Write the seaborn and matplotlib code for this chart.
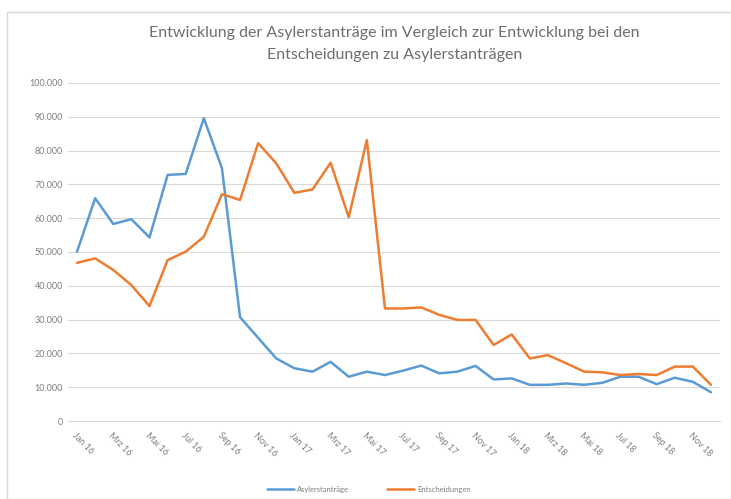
import pandas as pd
import matplotlib.pyplot as plt
import matplotlib.ticker as mticker
import seaborn as sns

# monthly values Jan 16 .. Dec 18
months = ["Jan 16", "Feb 16", "Mrz 16", "Apr 16", "Mai 16", "Jun 16", "Jul 16", "Aug 16",
          "Sep 16", "Okt 16", "Nov 16", "Dez 16",
          "Jan 17", "Feb 17", "Mrz 17", "Apr 17", "Mai 17", "Jun 17", "Jul 17", "Aug 17",
          "Sep 17", "Okt 17", "Nov 17", "Dez 17",
          "Jan 18", "Feb 18", "Mrz 18", "Apr 18", "Mai 18", "Jun 18", "Jul 18", "Aug 18",
          "Sep 18", "Okt 18", "Nov 18", "Dez 18"]

antraege = [50100, 65900, 58300, 59700, 54300, 72800, 73100, 89600, 74800, 30700, 24600, 18500,
            15600, 14600, 17500, 13100, 14600, 13600, 14900, 16400, 14100, 14600, 16300, 12300,
            12600, 10700, 10700, 11100, 10700, 11300, 13100, 13100, 10900, 12800, 11600, 8500]

entscheidungen = [46800, 48100, 44700, 40200, 34000, 47600, 50100, 54500, 67100, 65400, 82200, 76200,
                  67500, 68500, 76400, 60300, 83100, 33300, 33300, 33600, 31400, 29900, 29900, 22500,
                  25600, 18500, 19500, 17100, 14600, 14400, 13600, 13900, 13600, 16100, 16100, 10700]

series_names = ["Asylerstanträge", "Entscheidungen"]
colors = ["#5B9BD5", "#ED7D31"]

title = ("Entwicklung der Asylerstanträge im Vergleich zur Entwicklung bei den\n"
         "Entscheidungen zu Asylerstanträgen")

n = len(months)
df = pd.DataFrame({
    "idx": list(range(n)) * 2,
    "Wert": antraege + entscheidungen,
    "Reihe": [series_names[0]] * n + [series_names[1]] * n,
})

sns.set_style("white")
plt.rcParams["font.family"] = ["Lato", "DejaVu Sans"]

fig = plt.figure(figsize=(7.31, 4.99), dpi=100)
ax = fig.add_axes([0.093, 0.1563, 0.892, 0.6774])

sns.lineplot(data=df, x="idx", y="Wert", hue="Reihe", palette=colors,
             linewidth=1.8, ax=ax, legend=True)

ax.set_xlim(-0.5, n - 0.5)
ax.set_ylim(0, 100000)
ax.set_yticks(range(0, 100001, 10000))
ax.yaxis.set_major_formatter(mticker.FuncFormatter(
    lambda v, p: "0" if v == 0 else f"{int(v):,}".replace(",", ".")))
ax.set_xticks(range(0, n, 2))
ax.set_xticklabels(months[::2], rotation=-45, ha="left", va="top",
                   rotation_mode="anchor")
ax.tick_params(axis="both", labelsize=6.5, colors="#7F7F7F", length=0)
ax.tick_params(axis="x", pad=7)
ax.set_xlabel("")
ax.set_ylabel("")
ax.grid(axis="y", color="#D9D9D9", linewidth=0.8)
ax.set_axisbelow(True)
for s in ["top", "right", "left"]:
    ax.spines[s].set_visible(False)
ax.spines["bottom"].set_color("#D9D9D9")
ax.spines["bottom"].set_linewidth(0.8)

fig.text(0.54, 0.912, title, ha="center", va="center", fontsize=11.5,
         color="#6E6E6E", linespacing=1.7)

handles, labels = ax.get_legend_handles_labels()
ax.legend(handles, labels, loc="center", bbox_to_anchor=(0.505, 0.02),
          bbox_transform=fig.transFigure, ncol=2, frameon=False,
          fontsize=5.5, labelcolor="#7F7F7F", handlelength=3.5,
          handletextpad=0.4, columnspacing=5)

# chart area border
fig.patches.append(plt.Rectangle((0.01, 0.0), 0.99, 0.975, transform=fig.transFigure,
                                 fill=False, edgecolor="#D9D9D9", linewidth=1))

fig.savefig("out.png", dpi=100)
